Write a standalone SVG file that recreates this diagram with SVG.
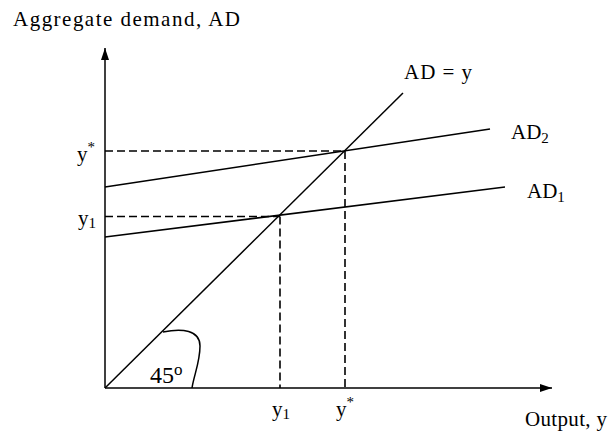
<svg xmlns="http://www.w3.org/2000/svg" width="612" height="432" viewBox="0 0 612 432">
<style>
  text { font-family: "Liberation Serif", "Times New Roman", serif; font-size: 21px; fill: #000; }
  .ln { stroke: #000; stroke-width: 1.5; fill: none; }
  .dash { stroke: #000; stroke-width: 1.6; fill: none; stroke-dasharray: 8 4; }
  .sub { font-size: 15px; }
</style>
<defs>
  <marker id="arr" viewBox="0 0 12 8" refX="12" refY="4" markerWidth="12" markerHeight="8" markerUnits="userSpaceOnUse" orient="auto">
    <path d="M0,0 L12,4 L0,8 Z" fill="#000"/>
  </marker>
</defs>
<rect width="612" height="432" fill="#fff"/>
<g id="axes">
  <line class="ln" x1="105" y1="388" x2="105" y2="48" marker-end="url(#arr)"/>
  <line class="ln" x1="105" y1="388" x2="552" y2="388" marker-end="url(#arr)"/>
</g>
<g id="connectors">
  <line id="line45" class="ln" x1="105" y1="388" x2="403" y2="93"/>
  <line id="ad2" class="ln" x1="105" y1="187" x2="490" y2="129"/>
  <line id="ad1" class="ln" x1="105" y1="237" x2="505" y2="187"/>
  <line class="dash" x1="105" y1="151" x2="345" y2="151"/>
  <line class="dash" x1="345" y1="151" x2="345" y2="388"/>
  <line class="dash" x1="105" y1="216.5" x2="280" y2="216.5"/>
  <line class="dash" x1="280" y1="216.5" x2="280" y2="388"/>
  <path class="ln" d="M163,332 C182,328 200,330 200,346 C200,362 194,375 192,388"/>
</g>
<g id="labels">
  <text x="13" y="26" textLength="227">Aggregate demand, AD</text>
  <text x="404" y="79" textLength="68">AD = y</text>
  <text x="511" y="139">AD<tspan class="sub" dy="4">2</tspan></text>
  <text x="527" y="198">AD<tspan class="sub" dy="4">1</tspan></text>
  <text x="77" y="161">y<tspan class="sub" dy="-9">*</tspan></text>
  <text x="78" y="225">y<tspan class="sub" dy="3">1</tspan></text>
  <text x="272" y="416">y<tspan class="sub" dy="3">1</tspan></text>
  <text x="336" y="416">y<tspan class="sub" dy="-9">*</tspan></text>
  <text x="150" y="383" style="font-size:24px">45<tspan style="font-size:17px" dy="-8">o</tspan></text>
  <text x="525" y="426" textLength="82">Output, y</text>
</g>
</svg>
